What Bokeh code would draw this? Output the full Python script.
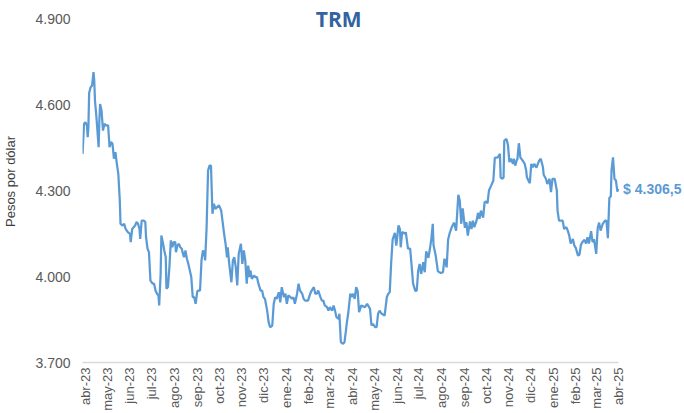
import pandas as pd
from math import pi
from bokeh.plotting import figure
from bokeh.models import ColumnDataSource, Range1d, FixedTicker, Label, CustomJSTickFormatter
from bokeh.embed import file_html
from bokeh.resources import INLINE

# ---------------- data ----------------
start_date = "2023-04-01"
# days since 2023-04-01 of each plotted TRM observation
day_offsets = [
    -4, -2, 0, 2, 3, 4, 5, 7, 9, 11,
    12, 13, 15, 18, 19, 20, 22, 24, 26, 28,
    31, 33, 35, 37, 39, 41, 43, 45, 47, 48,
    51, 53, 55, 58, 61, 62, 64, 66, 68, 70,
    72, 74, 75, 77, 80, 82, 83, 85, 87, 89,
    92, 94, 96, 98, 100, 101, 103, 104, 106, 108,
    110, 111, 113, 115, 117, 119, 121, 123, 124, 126,
    128, 130, 132, 133, 135, 137, 139, 141, 143, 145,
    147, 149, 151, 153, 154, 157, 159, 161, 163, 164,
    166, 168, 170, 172, 174, 176, 178, 183, 186, 190,
    192, 194, 195, 197, 200, 202, 204, 206, 208, 210,
    213, 215, 217, 219, 221, 223, 225, 226, 228, 231,
    233, 235, 237, 240, 242, 244, 246, 249, 251, 253,
    256, 258, 260, 262, 265, 267, 269, 272, 274, 276,
    278, 281, 283, 285, 287, 290, 292, 294, 297, 299,
    301, 305, 308, 310, 313, 315, 317, 319, 322, 324,
    326, 328, 331, 333, 335, 338, 340, 342, 344, 347,
    348, 350, 353, 355, 357, 358, 360, 363, 365, 367,
    369, 371, 373, 375, 378, 383, 386, 390, 392, 394,
    397, 399, 401, 403, 406, 410, 413, 415, 417, 419,
    421, 424, 426, 429, 431, 432, 434, 438, 439, 442,
    445, 447, 449, 452, 454, 456, 458, 460, 463, 465,
    467, 470, 472, 474, 476, 477, 480, 483, 487, 490,
    492, 495, 497, 499, 502, 505, 508, 511, 513, 515,
    517, 520, 522, 524, 527, 529, 531, 533, 536, 538,
    540, 542, 545, 547, 549, 551, 553, 556, 559, 561,
    565, 568, 569, 571, 573, 574, 577, 579, 581, 583,
    586, 587, 589, 591, 592, 594, 596, 599, 602, 604,
    605, 607, 609, 611, 613, 615, 618, 620, 622, 624,
    627, 628, 631, 633, 636, 638, 640, 643, 646, 647,
    649, 652, 654, 656, 659, 661, 663, 665, 668, 670,
    672, 675, 677, 679, 681, 684, 686, 688, 690, 693,
    695, 697, 700, 702, 704, 706, 709, 712, 714, 716,
    718, 720, 721, 723, 725, 727, 729, 730,
]
# TRM, pesos por dólar
trm = [
    4428, 4533, 4538, 4527, 4486, 4521, 4640, 4660, 4666, 4713,
    4684, 4614, 4556, 4451, 4544, 4602, 4579, 4509, 4533, 4527,
    4527, 4451, 4469, 4463, 4411, 4434, 4393, 4358, 4265, 4184,
    4178, 4184, 4166, 4155, 4149, 4120, 4166, 4172, 4178, 4190,
    4184, 4166, 4131, 4195, 4195, 4190, 4137, 4097, 4085, 3986,
    3975, 3975, 3951, 3940, 3934, 3899, 4009, 4143, 4120, 4091,
    4067, 3957, 3963, 4032, 4126, 4102, 4120, 4120, 4085, 4108,
    4114, 4102, 4097, 4085, 4067, 4091, 4062, 4044, 4021, 3998,
    3928, 3928, 3905, 3945, 3951, 3951, 4056, 4091, 4079, 4056,
    4172, 4370, 4387, 4387, 4219, 4254, 4236, 4248, 4230, 4149,
    4114, 4067, 4102, 4044, 3980, 4056, 4067, 4032, 3969, 4079,
    4114, 4044, 4091, 4056, 3975, 4038, 3998, 4021, 3992, 4003,
    3998, 3998, 3975, 3951, 3951, 3928, 3922, 3881, 3841, 3823,
    3829, 3905, 3928, 3922, 3945, 3910, 3963, 3928, 3940, 3905,
    3934, 3928, 3922, 3928, 3905, 3940, 3975, 3951, 3940, 3922,
    3916, 3916, 3940, 3951, 3963, 3940, 3940, 3951, 3928, 3916,
    3916, 3899, 3893, 3881, 3893, 3881, 3899, 3881, 3858, 3852,
    3870, 3771, 3765, 3771, 3812, 3835, 3870, 3940, 3928, 3940,
    3922, 3963, 3950, 3876, 3899, 3893, 3905, 3887, 3829, 3835,
    3823, 3823, 3870, 3881, 3870, 3864, 3928, 3940, 3945, 4050,
    4130, 4152, 4108, 4178, 4165, 4102, 4155, 4149, 4155, 4097,
    4097, 4038, 3975, 3950, 3951, 4020, 4044, 4009, 4050, 4015,
    4088, 4065, 4095, 4131, 4184, 4110, 4073, 4018, 4012, 4015,
    4062, 4032, 4128, 4150, 4172, 4188, 4160, 4285, 4265, 4184,
    4238, 4170, 4190, 4143, 4192, 4166, 4195, 4172, 4195, 4222,
    4201, 4230, 4205, 4259, 4262, 4255, 4300, 4317, 4335, 4414,
    4416, 4428, 4346, 4341, 4345, 4474, 4480, 4460, 4399, 4411,
    4393, 4411, 4387, 4405, 4410, 4465, 4416, 4405, 4393, 4370,
    4346, 4335, 4326, 4393, 4381, 4393, 4380, 4393, 4405, 4411,
    4381, 4355, 4341, 4323, 4341, 4294, 4341, 4341, 4300, 4230,
    4195, 4195, 4195, 4166, 4172, 4160, 4143, 4115, 4131, 4108,
    4100, 4073, 4076, 4110, 4120, 4128, 4115, 4137, 4115, 4158,
    4120, 4130, 4079, 4168, 4188, 4160, 4184, 4195, 4195, 4134,
    4274, 4280, 4370, 4416, 4341, 4335, 4296, 4306.5,
]

month_labels = ["abr-23", "may-23", "jun-23", "jul-23", "ago-23", "sep-23",
                "oct-23", "nov-23", "dic-23", "ene-24", "feb-24", "mar-24",
                "abr-24", "may-24", "jun-24", "jul-24", "ago-24", "sep-24",
                "oct-24", "nov-24", "dic-24", "ene-25", "feb-25", "mar-25",
                "abr-25"]
y_ticks = [3700, 4000, 4300, 4600, 4900]
y_tick_labels = ["3.700", "4.000", "4.300", "4.600", "4.900"]
title_text = "TRM"
y_title = "Pesos por dólar"

# ---------------- build ----------------
FONT = "Liberation Sans"
base = pd.Timestamp(start_date)
dates = [base + pd.Timedelta(days=d) for d in day_offsets]
src = ColumnDataSource(dict(date=dates, trm=trm))

month_starts = list(pd.date_range(start_date, periods=len(month_labels), freq="MS"))
month_ms = [ts.value / 1e6 for ts in month_starts]

# plot area: left edge a few days before the first month, right part left free for the value label
x_start = base - pd.Timedelta(days=4.1)
x_end = base + pd.Timedelta(days=821)
y_top = y_ticks[-1] + 63  # headroom for the title

p = figure(width=684, height=413, x_axis_type="datetime",
           output_backend="svg", toolbar_location=None,
           x_range=Range1d(x_start, x_end), y_range=Range1d(y_ticks[0], y_top),
           min_border_left=80, min_border_right=0, min_border_top=0, min_border_bottom=51)
p.outline_line_color = None
p.grid.visible = False
p.background_fill_color = "white"
p.border_fill_color = "white"

p.line("date", "trm", source=src, line_color="#5B9BD5", line_width=2.25)

# y axis
p.yaxis.ticker = FixedTicker(ticks=y_ticks)
p.yaxis.major_label_overrides = dict(zip(y_ticks, y_tick_labels))
p.yaxis.axis_line_color = None
p.yaxis.major_tick_out = 0
p.yaxis.major_tick_in = 0
p.yaxis.minor_tick_out = 0
p.yaxis.minor_tick_in = 0
p.yaxis.major_label_standoff = 12
p.yaxis.major_label_text_font = FONT
p.yaxis.major_label_text_font_size = "14px"
p.yaxis.major_label_text_color = "#595959"
p.yaxis.axis_label = y_title
p.yaxis.axis_label_text_font = FONT
p.yaxis.axis_label_text_font_size = "13px"
p.yaxis.axis_label_text_font_style = "normal"
p.yaxis.axis_label_text_color = "#404040"
p.yaxis.axis_label_standoff = 14

# x axis: monthly labels, baseline limited to the data period
p.xaxis.ticker = FixedTicker(ticks=month_ms)
p.xaxis.formatter = CustomJSTickFormatter(
    args=dict(tick_vals=month_ms, month_names=month_labels),
    code="const i = tick_vals.indexOf(tick); return i >= 0 ? month_names[i] : '';")
p.xaxis.bounds = (x_start, month_starts[-1])
p.xaxis.axis_line_color = "#D9D9D9"
p.xaxis.axis_line_width = 1.5
p.xaxis.major_tick_out = 0
p.xaxis.major_tick_in = 0
p.xaxis.minor_tick_out = 0
p.xaxis.minor_tick_in = 0
p.xaxis.major_label_orientation = pi / 2
p.xaxis.major_label_standoff = 5
p.xaxis.major_label_text_font = FONT
p.xaxis.major_label_text_font_size = "13px"
p.xaxis.major_label_text_color = "#595959"

# title
p.add_layout(Label(x=base + pd.Timedelta(days=347), y=y_ticks[-1], text=title_text,
                   text_font="Open Sans", text_font_style="bold", text_font_size="21px",
                   text_color="#32639F", text_align="center", text_baseline="middle"))

# end value label
last = trm[-1]
last_txt = "$ " + f"{last:,.1f}".replace(",", "X").replace(".", ",").replace("X", ".")
p.add_layout(Label(x=dates[-1], y=last, x_offset=5, text=last_txt,
                   text_font=FONT, text_font_style="bold", text_font_size="14px",
                   text_color="#5B9BD5", text_align="left", text_baseline="middle"))

open("out.html", "w").write(file_html(p, INLINE))
